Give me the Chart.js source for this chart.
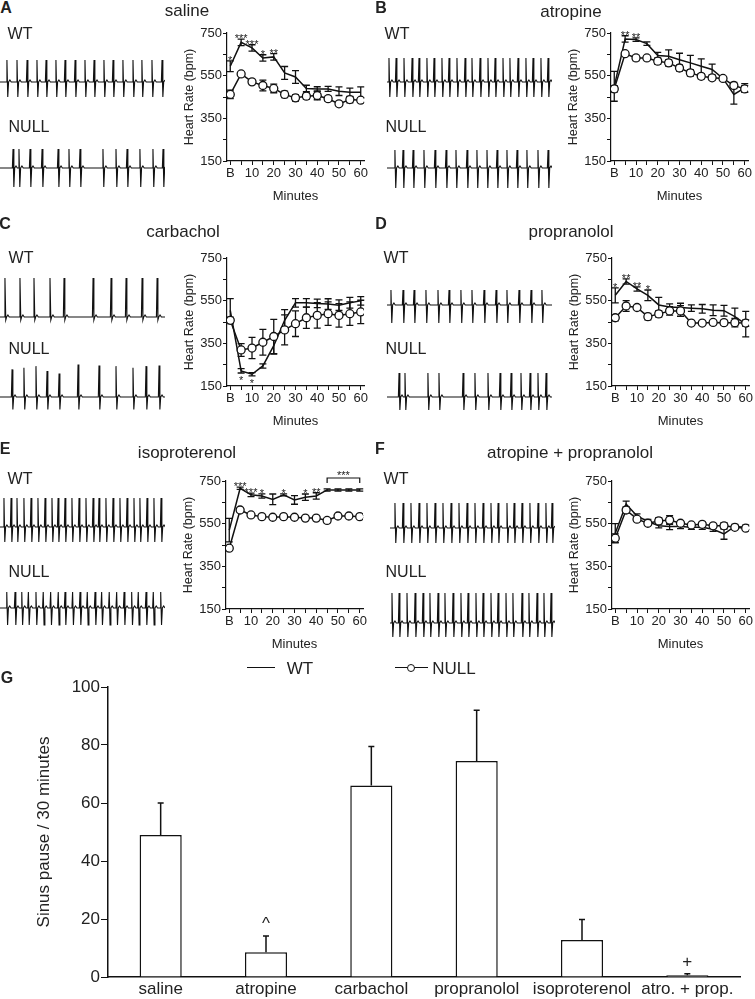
<!DOCTYPE html>
<html>
<head>
<meta charset="utf-8">
<script src="https://cdn.jsdelivr.net/npm/chart.js@4.4.1/dist/chart.umd.min.js"></script>
<style>
  body { margin: 0; background: #fff; }
  #fig { position: relative; width: 755px; height: 999px; overflow: hidden;
         font-family: "Liberation Sans", Arial, sans-serif; color: #222; }
  #fig canvas { position: absolute; }
  .lbl { position: absolute; transform: translate(-50%, -50%); line-height: 1; white-space: nowrap; }
  .leg-line { position: absolute; height: 0; border-top: 1.5px solid #111; }
  .leg-dot { position: absolute; width: 6px; height: 6px; border: 1.3px solid #111; border-radius: 50%; background: #fff; }
</style>
</head>
<body>
<div id="fig"></div>
<script>
// ---- heart rate data (bpm), B = baseline, then every 5 minutes
const minutes = [0, 5, 10, 15, 20, 25, 30, 35, 40, 45, 50, 55, 60];
const yTickVals = [150, 250, 350, 450, 550, 650, 750];
const yLabelVals = [150, 350, 550, 750];

// A saline
const wtA = [594, 706, 680, 633, 638, 563, 544, 490, 488, 488, 477, 472, 472];
const wtErrA = [25, 15, 15, 15, 15, 30, 30, 15, 10, 12, 20, 20, 25];
const nullA = [462, 558, 521, 504, 490, 462, 446, 454, 457, 442, 418, 438, 435];
const nullErrA = [20, 8, 8, 25, 20, 15, 15, 15, 20, 12, 8, 15, 10];
const starsA = ['*', '***', '***', '*', '**', '', '', '', '', '', '', '', ''];

// B atropine
const wtB = [500, 722, 719, 700, 644, 641, 625, 610, 594, 579, 537, 462, 493];
const wtErrB = [70, 15, 8, 8, 15, 30, 30, 35, 35, 25, 5, 45, 20];
const nullB = [488, 653, 633, 633, 618, 610, 586, 563, 547, 540, 537, 504, 488];
const nullErrB = [15, 8, 12, 8, 15, 15, 15, 15, 12, 10, 5, 15, 15];
const starsB = ['', '**', '**', '', '', '', '', '', '', '', '', '', ''];

// C carbachol
const wtC = [505, 221, 205, 244, 339, 458, 540, 540, 537, 534, 529, 540, 549];
const wtErrC = [55, 10, 8, 10, 40, 50, 20, 20, 20, 25, 25, 25, 20];
const nullC = [458, 319, 328, 355, 382, 413, 442, 470, 481, 489, 481, 489, 497];
const nullErrC = [15, 30, 50, 60, 80, 70, 60, 50, 60, 55, 55, 55, 55];
const starsC = ['', '*', '*', '', '', '', '', '', '', '', '', '', ''];

// D propranolol
const wtD = [575, 640, 605, 575, 530, 520, 518, 515, 512, 505, 503, 475, 440];
const wtErrD = [35, 12, 10, 25, 35, 15, 20, 15, 20, 25, 25, 40, 60];
const nullD = [470, 525, 518, 475, 488, 502, 502, 445, 445, 448, 447, 447, 445];
const nullErrD = [15, 25, 8, 15, 15, 20, 25, 8, 8, 10, 10, 20, 15];
const starsD = ['*', '**', '**', '*', '', '', '', '', '', '', '', '', ''];

// E isoproterenol
const wtE = [520, 716, 685, 680, 664, 685, 661, 674, 680, 708, 708, 708, 708];
const wtErrE = [55, 5, 8, 10, 25, 5, 20, 15, 15, 5, 5, 5, 5];
const nullE = [435, 614, 591, 583, 580, 583, 580, 576, 576, 565, 586, 586, 583];
const nullErrE = [10, 10, 5, 5, 5, 5, 5, 5, 5, 10, 5, 5, 5];
const starsE = ['', '***', '***', '*', '', '*', '', '*', '**', '', '', '', ''];
const bracketE = [45, 60, '***'];

// F atropine + propranolol
const wtF = [505, 641, 586, 560, 540, 537, 537, 533, 533, 524, 502, 537, 533];
const wtErrF = [45, 15, 10, 10, 10, 15, 10, 10, 10, 10, 25, 10, 10];
const nullF = [482, 614, 571, 552, 563, 567, 552, 544, 547, 540, 540, 533, 529];
const nullErrF = [20, 15, 10, 10, 15, 20, 10, 8, 10, 8, 15, 8, 8];

// G sinus pauses
const gCats = ['saline', 'atropine', 'carbachol', 'propranolol', 'isoproterenol', 'atro. + prop.'];
const gMeans = [49, 8.5, 66, 74.5, 12.8, 0.6];
const gErr = [11, 5.6, 13.5, 17.5, 7, 0.5];
const gMarks = ['', '^', '', '', '', '+'];

// ---- ECG strips: beat times (% of strip), R and S amplitudes
const beatsAwt = [4.2, 10.3, 16.4, 22.4, 27.9, 33.9, 39.4, 45.5, 51.5, 57, 63, 68.5, 74.5, 80.6, 86, 92.1, 98.2];
const beatsAnull = [7.9, 11.5, 18.2, 25.5, 35.2, 41.8, 48.5, 62.4, 70.3, 77, 84.8, 92.7, 98.8];
const beatsBwt = [1.2, 5.5, 10.3, 15.2, 19.4, 24.2, 28.5, 33.3, 37.6, 42.4, 47.3, 51.5, 56.4, 61.2, 65.5, 70.3, 74.5, 79.4, 84.2, 88.5, 93.3, 97.6];
const beatsBnull = [4.8, 9.7, 15.8, 22.4, 29.1, 35.8, 41.8, 48.5, 54.5, 60.6, 66.7, 72.7, 78.8, 84.8, 91.5, 97.6];
const beatsCwt = [3, 12.1, 20.6, 30.3, 38.8, 56.4, 67.3, 76.4, 86.1, 95.2];
const beatsCnull = [7.3, 14.5, 21.8, 28.5, 35.8, 47.3, 60, 70.3, 80.6, 88.5, 96.4];
const ampCnull = [0.85, 0.9, 0.95, 0.8, 0.72, 1, 0.97, 0.95, 0.9, 0.95, 0.97];
const beatsDwt = [2.4, 9.7, 16.4, 23.6, 30.9, 37.6, 44.8, 51.5, 58.8, 66.1, 72.7, 80, 87.3, 93.9];
const beatsDnull = [7.3, 10.9, 24.8, 31.5, 46.1, 53.3, 61.2, 68.5, 75.2, 81.2, 86.7, 91.5, 96.4];
const beatsEwt = [2.4, 6.7, 10.3, 14.5, 18.8, 23, 27.3, 31.5, 35.2, 39.4, 43.6, 47.9, 52.1, 56.4, 60, 64.2, 68.5, 72.7, 77, 81.2, 84.8, 89.1, 93.3, 97.6];
const beatsEnull = [4.1, 9.1, 13.2, 17.2, 21.8, 26.2, 30.7, 35.3, 39.4, 44, 48.5, 52.9, 57.6, 61.6, 66.2, 70.7, 75.2, 79.8, 83.8, 88.5, 92.9, 97.4];
const beatsFwt = [3, 7.9, 12.7, 17.6, 22.4, 27.3, 32.1, 37, 41.8, 46.7, 51.5, 56.4, 61.2, 65.5, 70.9, 75.2, 80, 84.8, 89.7, 94.5, 98.2];
const beatsFnull = [1.2, 5.5, 10.3, 15.2, 20, 24.2, 29.1, 33.3, 38.2, 43, 47.3, 52.1, 56.4, 61.2, 65.5, 70.3, 74.5, 80, 84.2, 89.1, 93.3, 97.6];

Chart.defaults.font.family = '"Liberation Sans", Arial, sans-serif';
Chart.defaults.color = '#222';
Chart.defaults.animation = false;

const fig = document.getElementById('fig');
const FONT = '"Liberation Sans", Arial, sans-serif';

function addCanvas(left, top, w, h) {
    const c = document.createElement('canvas');
    c.width = w; c.height = h;
    c.style.left = left + 'px'; c.style.top = top + 'px';
    c.style.width = w + 'px'; c.style.height = h + 'px';
    fig.appendChild(c);
    return c;
}

function addLabel(text, x, y, size, bold) {
    const d = document.createElement('div');
    d.className = 'lbl';
    d.textContent = text;
    d.style.left = x + 'px'; d.style.top = y + 'px';
    d.style.fontSize = size + 'px';
    if (bold) d.style.fontWeight = 'bold';
    fig.appendChild(d);
}

// error bars behind the lines, stars on top
const hrMarks = {
    id: 'hrMarks',
    beforeDatasetsDraw(chart) {
        const {ctx, scales: {x, y}} = chart;
        ctx.save();
        ctx.strokeStyle = '#111';
        ctx.lineWidth = 1.3;
        chart.data.datasets.forEach(ds => {
            ds.data.forEach((p, i) => {
                const e = ds.errors[i];
                const px = x.getPixelForValue(p.x);
                const top = y.getPixelForValue(p.y + e);
                const bot = y.getPixelForValue(p.y - e);
                ctx.beginPath();
                ctx.moveTo(px, top); ctx.lineTo(px, bot);
                ctx.moveTo(px - 3.5, top); ctx.lineTo(px + 3.5, top);
                ctx.moveTo(px - 3.5, bot); ctx.lineTo(px + 3.5, bot);
                ctx.stroke();
            });
        });
        ctx.restore();
    },
    afterDatasetsDraw(chart) {
        const {ctx, scales: {x, y}, chartArea} = chart;
        const wt = chart.data.datasets[1];
        ctx.save();
        ctx.fillStyle = '#222';
        ctx.font = '11px ' + FONT;
        ctx.textAlign = 'center';
        ctx.textBaseline = 'alphabetic';
        (wt.stars || []).forEach((s, i) => {
            if (!s) return;
            const p = wt.data[i];
            const px = x.getPixelForValue(p.x);
            if (wt.starsBelow) {
                ctx.fillText(s, px, y.getPixelForValue(p.y - wt.errors[i]) + 11);
            } else {
                ctx.fillText(s, px, y.getPixelForValue(p.y + wt.errors[i]) + 3);
            }
        });
        if (wt.bracket) {
            const x1 = x.getPixelForValue(wt.bracket[0]);
            const x2 = x.getPixelForValue(wt.bracket[1]);
            const by = chartArea.top - 3;
            ctx.strokeStyle = '#111';
            ctx.lineWidth = 1.2;
            ctx.beginPath();
            ctx.moveTo(x1, by + 5); ctx.lineTo(x1, by); ctx.lineTo(x2, by); ctx.lineTo(x2, by + 5);
            ctx.stroke();
            ctx.fillText(wt.bracket[2], (x1 + x2) / 2, by + 1);
        }
        ctx.restore();
    }
};

function hrChart(axisX, top, wt, wtErr, nul, nulErr, stars, starsBelow, bracket) {
    const canvas = addCanvas(axisX - 48, top - 16, 193, 191);
    return new Chart(canvas, {
        type: 'line',
        data: {
            datasets: [{
                data: nul.map((v, i) => ({x: minutes[i], y: v})),
                errors: nulErr,
                borderColor: '#111',
                borderWidth: 1.5,
                pointRadius: 4,
                pointBackgroundColor: '#fff',
                pointBorderColor: '#111',
                pointBorderWidth: 1.3
            }, {
                data: wt.map((v, i) => ({x: minutes[i], y: v})),
                errors: wtErr,
                stars: stars,
                starsBelow: starsBelow,
                bracket: bracket,
                borderColor: '#111',
                borderWidth: 1.5,
                pointRadius: 0
            }]
        },
        options: {
            responsive: false,
            devicePixelRatio: 1,
            layout: {padding: {top: 16, right: 8, left: 0, bottom: 0}},
            plugins: {legend: {display: false}, tooltip: {enabled: false}},
            scales: {
                x: {
                    type: 'linear',
                    min: -1.5,
                    max: 61.5,
                    afterBuildTicks: s => { s.ticks = minutes.map(v => ({value: v})); },
                    afterFit: s => { s.height = 47; },
                    ticks: {
                        autoSkip: false, maxRotation: 0, padding: 1, color: '#222',
                        font: {size: 13},
                        callback: v => v === 0 ? 'B' : (v % 10 === 0 ? String(v) : '')
                    },
                    grid: {drawOnChartArea: false, tickLength: 4, color: '#111'},
                    border: {color: '#111', width: 1.2},
                    title: {display: true, text: 'Minutes', color: '#222', font: {size: 13}}
                },
                y: {
                    min: 150,
                    max: 750,
                    afterBuildTicks: s => { s.ticks = yTickVals.map(v => ({value: v})); },
                    afterFit: s => { s.width = 48; },
                    ticks: {
                        autoSkip: false, padding: 1, color: '#222',
                        font: {size: 13},
                        callback: v => yLabelVals.includes(v) ? String(v) : ''
                    },
                    grid: {drawOnChartArea: false, tickLength: 4, color: '#111'},
                    border: {color: '#111', width: 1.2},
                    title: {display: true, text: 'Heart Rate (bpm)', color: '#222', font: {size: 12.5},
                            padding: {top: 3, bottom: 0}}
                }
            }
        },
        plugins: [hrMarks]
    });
}

function ecgStrip(left, baseline, beats, up, down, amps) {
    const pts = [{x: 0, y: 0}];
    beats.forEach((t, i) => {
        const a = amps ? amps[i] : 1;
        pts.push({x: t - 0.4, y: 0}, {x: t, y: up * a}, {x: t + 0.5, y: -down},
                 {x: t + 1, y: 0}, {x: t + 1.8, y: 0.08}, {x: t + 2.6, y: 0});
    });
    if (pts[pts.length - 1].x < 100) pts.push({x: 100, y: 0});
    const canvas = addCanvas(left, baseline - 45, 165, 90);
    return new Chart(canvas, {
        type: 'line',
        data: {datasets: [{data: pts, borderColor: '#111', borderWidth: 1.1, pointRadius: 0}]},
        options: {
            responsive: false,
            devicePixelRatio: 1,
            layout: {padding: 0},
            plugins: {legend: {display: false}, tooltip: {enabled: false}},
            scales: {
                x: {type: 'linear', min: 0, max: 100, display: false},
                y: {min: -1.8, max: 1.8, display: false}
            }
        }
    });
}

// ---- line charts
hrChart(227, 33, wtA, wtErrA, nullA, nullErrA, starsA, false, null);
hrChart(611, 33, wtB, wtErrB, nullB, nullErrB, starsB, false, null);
hrChart(227, 258, wtC, wtErrC, nullC, nullErrC, starsC, true, null);
hrChart(612, 258, wtD, wtErrD, nullD, nullErrD, starsD, false, null);
hrChart(226, 481, wtE, wtErrE, nullE, nullErrE, starsE, false, bracketE);
hrChart(612, 481, wtF, wtErrF, nullF, nullErrF, null, false, null);

// ---- ECG strips
ecgStrip(0, 82, beatsAwt, 0.88, 0.6);
ecgStrip(0, 168, beatsAnull, 0.76, 0.76);
ecgStrip(387, 82, beatsBwt, 0.96, 0.6);
ecgStrip(387, 168, beatsBnull, 0.72, 0.8);
ecgStrip(0, 317, beatsCwt, 1.56, 0.12);
ecgStrip(0, 397, beatsCnull, 1.3, 0.5, ampCnull);
ecgStrip(387, 305, beatsDwt, 0.6, 0.72);
ecgStrip(387, 397, beatsDnull, 0.96, 0.52);
ecgStrip(0, 527, beatsEwt, 1.16, 0.6);
ecgStrip(0, 608, beatsEnull, 0.64, 0.68);
ecgStrip(390, 528, beatsFwt, 1.0, 0.6);
ecgStrip(390, 623, beatsFnull, 1.2, 0.56);

// ---- panel G bars
const barMarks = {
    id: 'barMarks',
    afterDatasetsDraw(chart) {
        const {ctx} = chart;
        const y = chart.scales.y;
        const meta = chart.getDatasetMeta(0);
        ctx.save();
        ctx.strokeStyle = '#111';
        ctx.lineWidth = 1.5;
        ctx.fillStyle = '#222';
        ctx.font = '17px ' + FONT;
        ctx.textAlign = 'center';
        meta.data.forEach((bar, i) => {
            const top = y.getPixelForValue(gMeans[i] + gErr[i]);
            ctx.beginPath();
            ctx.moveTo(bar.x, bar.y); ctx.lineTo(bar.x, top);
            ctx.moveTo(bar.x - 3, top); ctx.lineTo(bar.x + 3, top);
            ctx.stroke();
            if (gMarks[i]) ctx.fillText(gMarks[i], bar.x, top - 7);
        });
        ctx.restore();
    }
};

new Chart(addCanvas(30, 675, 715, 324), {
    type: 'bar',
    data: {
        labels: gCats,
        datasets: [{
            data: gMeans,
            backgroundColor: '#fff',
            borderColor: '#111',
            borderWidth: 1.5,
            barPercentage: 0.4,
            categoryPercentage: 1
        }]
    },
    options: {
        responsive: false,
        devicePixelRatio: 1,
        layout: {padding: {top: 12, right: 5, left: 0, bottom: 0}},
        plugins: {legend: {display: false}, tooltip: {enabled: false}},
        scales: {
            x: {
                grid: {display: false, drawTicks: false},
                border: {color: '#111', width: 1.5},
                afterFit: s => { s.height = 22; },
                ticks: {color: '#222', font: {size: 17}, padding: 2, maxRotation: 0, autoSkip: false}
            },
            y: {
                min: 0,
                max: 100,
                afterFit: s => { s.width = 78; },
                ticks: {stepSize: 20, color: '#222', font: {size: 17}, padding: 1},
                grid: {drawOnChartArea: false, tickLength: 7, color: '#111'},
                border: {color: '#111', width: 1.5},
                title: {display: true, text: 'Sinus pause / 30 minutes', color: '#222', font: {size: 17}}
            }
        }
    },
    plugins: [barMarks]
});

// ---- text labels
addLabel('A', 6, 8, 16, true);
addLabel('saline', 187, 10, 17);
addLabel('WT', 20, 34, 16);
addLabel('NULL', 29, 127, 16);
addLabel('B', 381, 8, 16, true);
addLabel('atropine', 571, 11, 17);
addLabel('WT', 397, 34, 16);
addLabel('NULL', 406, 127, 16);
addLabel('C', 5, 224, 16, true);
addLabel('carbachol', 183, 231, 17);
addLabel('WT', 21, 258, 16);
addLabel('NULL', 29, 349, 16);
addLabel('D', 381, 224, 16, true);
addLabel('propranolol', 571, 231, 17);
addLabel('WT', 396, 258, 16);
addLabel('NULL', 406, 349, 16);
addLabel('E', 5, 449, 16, true);
addLabel('isoproterenol', 187, 452, 17);
addLabel('WT', 20, 479, 16);
addLabel('NULL', 29, 572, 16);
addLabel('F', 380, 449, 16, true);
addLabel('atropine + propranolol', 570, 452, 17);
addLabel('WT', 396, 479, 16);
addLabel('NULL', 406, 572, 16);
addLabel('G', 7, 678, 16, true);

// ---- shared legend
function legendLine(x1, x2, y) {
    const d = document.createElement('div');
    d.className = 'leg-line';
    d.style.left = x1 + 'px'; d.style.top = (y - 1) + 'px'; d.style.width = (x2 - x1) + 'px';
    fig.appendChild(d);
}
legendLine(247, 275, 668);
addLabel('WT', 300, 668, 17);
legendLine(395, 428, 668);
const dot = document.createElement('div');
dot.className = 'leg-dot';
dot.style.left = '407px'; dot.style.top = '664px';
fig.appendChild(dot);
addLabel('NULL', 454, 668, 17);
</script>
</body>
</html>
